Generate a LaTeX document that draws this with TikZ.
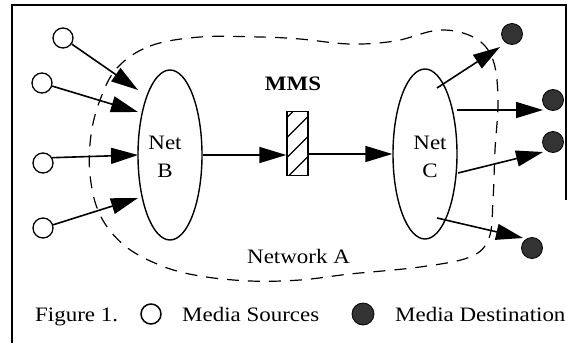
\documentclass[tikz,border=0pt]{standalone}
\usepackage{fontspec}
\setmainfont{Liberation Serif}[FakeStretch=1.12]
\usetikzlibrary{arrows.meta,shapes.geometric}
\begin{document}
\begin{tikzpicture}[x=1pt,y=-1pt,
  txt/.style={font=\fontsize{20.5}{25}\selectfont, inner sep=0pt},
  src/.style={circle,draw,line width=1.3pt,minimum size=20pt,inner sep=0pt},
  dst/.style={circle,draw,fill=black!80,line width=0.8pt,minimum size=21pt,inner sep=0pt},
  net/.style={ellipse,draw,line width=1.4pt,minimum width=64pt,minimum height=170pt,inner sep=0pt},
  netlabel/.style={align=center,inner sep=0pt,font=\fontsize{20.5}{28}\selectfont},
  arr/.style={line width=1.6pt,-{Triangle[length=27pt,width=16pt]}},
  frame/.style={line width=1.3pt},
  region/.style={line width=1.2pt,dash pattern=on 12pt off 9pt},
  hatchbox/.style={draw,line width=1.4pt,minimum width=21pt,minimum height=64pt,inner sep=0pt,
    path picture={\foreach \k in {0,...,4}
      \draw[line width=1.3pt] ([yshift=20*\k pt-2pt]path picture bounding box.south west) -- ++(40,-40);}}]
\useasboundingbox (0,0) rectangle (567,343);

% frame
\draw[frame] (12,343) -- (12,5) -- (566,5) -- (566,200);

% network A region
\draw[region] plot[smooth cycle, tension=0.6] coordinates {(117,68) (150,46) (200,37) (260,37) (300,39) (350,44) (395,41) (440,30) (475,38) (493,60) (498,100) (495,150) (493,200) (489,238) (470,257) (420,267) (350,274) (300,280) (250,281) (200,276) (162,266) (125,246) (100,215) (90,175) (91,135) (100,100)};

% sources
\node[src] (s1) at (63,38) {};
\node[src] (s2) at (42,83) {};
\node[src] (s3) at (43,163) {};
\node[src] (s4) at (43,228) {};

% nets
\node[net] (nb) at (170,155) {};
\node[netlabel] (nbl) at (165,157) {Net\\B};
\node[net] (nc) at (425,154) {};
\node[netlabel] (ncl) at (430,157) {Net\\C};

% MMS
\node[hatchbox] (mms) at (297.5,143.5) {};
\node[txt,anchor=base,font=\fontsize{20.5}{25}\selectfont\bfseries] (mmsl) at (293,90) {MMS};
\node[txt,anchor=base west] (na) at (247,263) {Network A};

% destinations
\node[dst] (d1) at (512,34) {};
\node[dst] (d2) at (553,100) {};
\node[dst] (d3) at (553,142) {};
\node[dst] (d4) at (532,248) {};

% arrow end points
\coordinate (b1) at (138,90);
\coordinate (b2) at (138,112);
\coordinate (b3) at (138,155);
\coordinate (b4) at (138,198);
\coordinate (c1) at (437,88);
\coordinate (c2) at (457,110);
\coordinate (c3) at (458,173);
\coordinate (c4) at (437,218);
\coordinate (e1) at (500,47);
\coordinate (e2) at (543,110);
\coordinate (e3) at (543,152);
\coordinate (e4) at (523,238);

\draw[arr] (s1) -- (b1);
\draw[arr] (s2) -- (b2);
\draw[arr] (s3.30) -- (b3);
\draw[arr] (s4) -- (b4);
\draw[arr] (nb.east) -- (nb.east -| mms.west);
\draw[arr] (nc.west -| mms.east) -- (nc.west);
\draw[arr] (c1) -- (e1);
\draw[arr] (c2) -- (e2);
\draw[arr] (c3) -- (e3);
\draw[arr] (c4) -- (e4);

% caption
\node[txt,anchor=base west] (cap) at (35,321) {Figure 1.};
\node[src,line width=1.5pt] (ls) at (151,314) {};
\node[txt,anchor=base west] (lsl) at (182,321) {Media Sources};
\node[dst,minimum size=22pt] (ld) at (363,314) {};
\node[txt,anchor=base west] (ldl) at (395,321) {Media Destination};
\end{tikzpicture}
\end{document}
